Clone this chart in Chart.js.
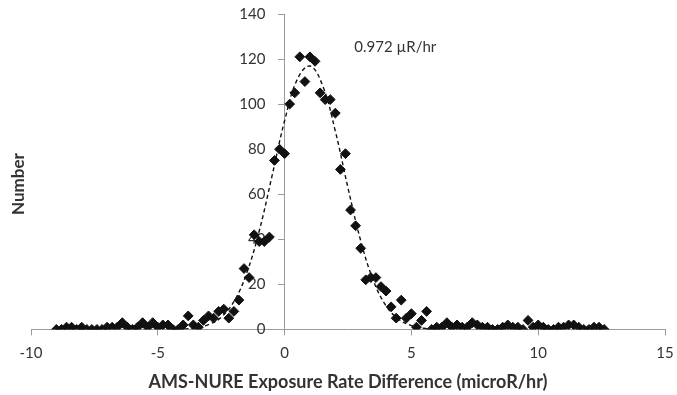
<!DOCTYPE html>
<html>
<head>
<meta charset="utf-8">
<script src="https://cdn.jsdelivr.net/npm/chart.js@4/dist/chart.umd.min.js"></script>
<style>
  html, body { margin: 0; padding: 0; background: #ffffff; }
  #wrap { width: 677px; height: 395px; position: relative; }
</style>
</head>
<body>
<div id="wrap"><canvas id="c" width="677" height="395"></canvas></div>
<script>
// Observed histogram: exposure-rate difference bin (microR/hr) and count
const diffX = [
  -9.0, -8.8, -8.6, -8.4, -8.2, -8.0, -7.8, -7.6, -7.4, -7.2,
  -7.0, -6.8, -6.6, -6.4, -6.2, -6.0, -5.8, -5.6, -5.4, -5.2,
  -5.0, -4.8, -4.6, -4.4, -4.2, -4.0, -3.8, -3.6, -3.4, -3.2,
  -3.0, -2.8, -2.6, -2.4, -2.2, -2.0, -1.8, -1.6, -1.4, -1.2,
  -1.0, -0.8, -0.6, -0.4, -0.2, 0.0, 0.2, 0.4, 0.6, 0.8,
  1.0, 1.2, 1.4, 1.6, 1.8, 2.0, 2.2, 2.4, 2.6, 2.8,
  3.0, 3.2, 3.4, 3.6, 3.8, 4.0, 4.2, 4.4, 4.6, 4.8,
  5.0, 5.2, 5.4, 5.6, 5.8, 6.0, 6.2, 6.4, 6.6, 6.8,
  7.0, 7.2, 7.4, 7.6, 7.8, 8.0, 8.2, 8.4, 8.6, 8.8,
  9.0, 9.2, 9.4, 9.6, 9.8, 10.0, 10.2, 10.4, 10.6, 10.8,
  11.0, 11.2, 11.4, 11.6, 11.8, 12.0, 12.2, 12.4, 12.6
];
const counts = [
  0, 0, 1, 1, 0, 1, 0, 0, 0, 0,
  1, 1, 1, 3, 1, 0, 1, 3, 1, 3,
  1, 2, 2, 0, 0, 2, 6, 2, 1, 4,
  6, 5, 8, 9, 5, 8, 13, 27, 23, 42,
  39, 39, 41, 75, 80, 78, 100, 105, 121, 110,
  121, 119, 105, 102, 102, 96, 71, 78, 53, 46,
  36, 22, 23, 23, 19, 17, 10, 5, 13, 5,
  7, 1, 4, 8, 0, 1, 1, 3, 1, 2,
  1, 1, 3, 2, 1, 1, 0, 0, 1, 2,
  1, 1, 0, 4, 1, 2, 1, 0, 0, 1,
  1, 2, 2, 1, 0, 0, 1, 1, 0
];
// Dashed fitted curve
const fitX = [-4.5, -4.0, -3.5, -3.0, -2.5, -2.0, -1.5, -1.0, -0.5, 0.0, 0.5, 1.0, 1.5, 2.0, 2.5, 3.0, 3.5, 4.0, 4.5, 5.0, 5.5, 6.0];
const fitY = [0.1, 0.2, 0.7, 2.1, 5.4, 12.3, 24.8, 43.7, 67.9, 92.6, 111.0, 116.9, 108.2, 88.0, 62.8, 39.4, 21.7, 10.5, 4.5, 1.7, 0.5, 0.2];
// Axis ticks and labels
const xTicks = [-10, -5, 0, 5, 10, 15];
const yTicks = [0, 20, 40, 60, 80, 100, 120, 140];
const noteText = '0.972 µR/hr';
const xTitle = 'AMS-NURE Exposure Rate Difference (microR/hr)';
const yTitle = 'Number';

const TEXT = '#333333';
const AXIS = '#9a9a9a';

const pts = diffX.map((x, i) => ({x: x, y: counts[i]}));
const fit = fitX.map((x, i) => ({x: x, y: fitY[i]}));

const extraText = {
  id: 'extraText',
  afterDraw(chart) {
    const ctx = chart.ctx;
    const xs = chart.scales.x, ys = chart.scales.y;
    ctx.save();
    ctx.fillStyle = TEXT;
    ctx.font = '15px Lato';
    ctx.textAlign = 'left';
    ctx.textBaseline = 'middle';
    ctx.fillText(noteText, xs.getPixelForValue(2.75), ys.getPixelForValue(125.3));
    ctx.translate(19, 184);
    ctx.rotate(-Math.PI / 2);
    ctx.font = 'bold 17px Lato';
    ctx.textAlign = 'center';
    ctx.fillText(yTitle, 0, 0);
    ctx.restore();
  }
};

const zeroPad = (s) => { s.paddingTop = 0; s.paddingBottom = 0; s.paddingLeft = 0; s.paddingRight = 0; };

new Chart(document.getElementById('c'), {
  type: 'scatter',
  data: {
    datasets: [
      {
        label: 'Observed',
        data: pts,
        pointStyle: 'rectRot',
        pointRadius: 4.9,
        pointBorderWidth: 1,
        backgroundColor: '#111111',
        borderColor: '#111111',
        showLine: false,
        order: 0
      },
      {
        label: 'Fit',
        data: fit,
        showLine: true,
        pointRadius: 0,
        borderColor: '#111111',
        borderWidth: 1.4,
        borderDash: [4, 3],
        tension: 0.4,
        fill: false,
        order: 1
      }
    ]
  },
  options: {
    responsive: false,
    animation: false,
    devicePixelRatio: 1,
    layout: { padding: { left: 31, right: 12, top: 14, bottom: 2 } },
    plugins: { legend: { display: false }, tooltip: { enabled: false } },
    scales: {
      x: {
        type: 'linear',
        position: 'bottom',
        min: -10, max: 15,
        afterBuildTicks: (s) => { s.ticks = xTicks.map(v => ({value: v})); },
        afterFit: zeroPad,
        grid: { drawOnChartArea: false, drawTicks: true, tickLength: 6, color: AXIS },
        border: { color: AXIS, width: 1 },
        ticks: { color: TEXT, font: { family: 'Lato', size: 15 }, padding: 9, maxRotation: 0 },
        title: { display: true, text: xTitle, color: TEXT, font: { family: 'Lato', size: 18, weight: 'bold' }, padding: { top: 0, bottom: 0 } }
      },
      y: {
        type: 'linear',
        position: { x: 0 },
        min: 0, max: 140,
        afterBuildTicks: (s) => { s.ticks = yTicks.map(v => ({value: v})); },
        afterFit: zeroPad,
        grid: { drawOnChartArea: false, drawTicks: true, tickLength: 6, color: AXIS },
        border: { color: AXIS, width: 1 },
        ticks: { color: TEXT, font: { family: 'Lato', size: 15 }, padding: 12,
                 callback: (v) => v + '     ' }
      }
    }
  },
  plugins: [extraText]
});
</script>
</body>
</html>
